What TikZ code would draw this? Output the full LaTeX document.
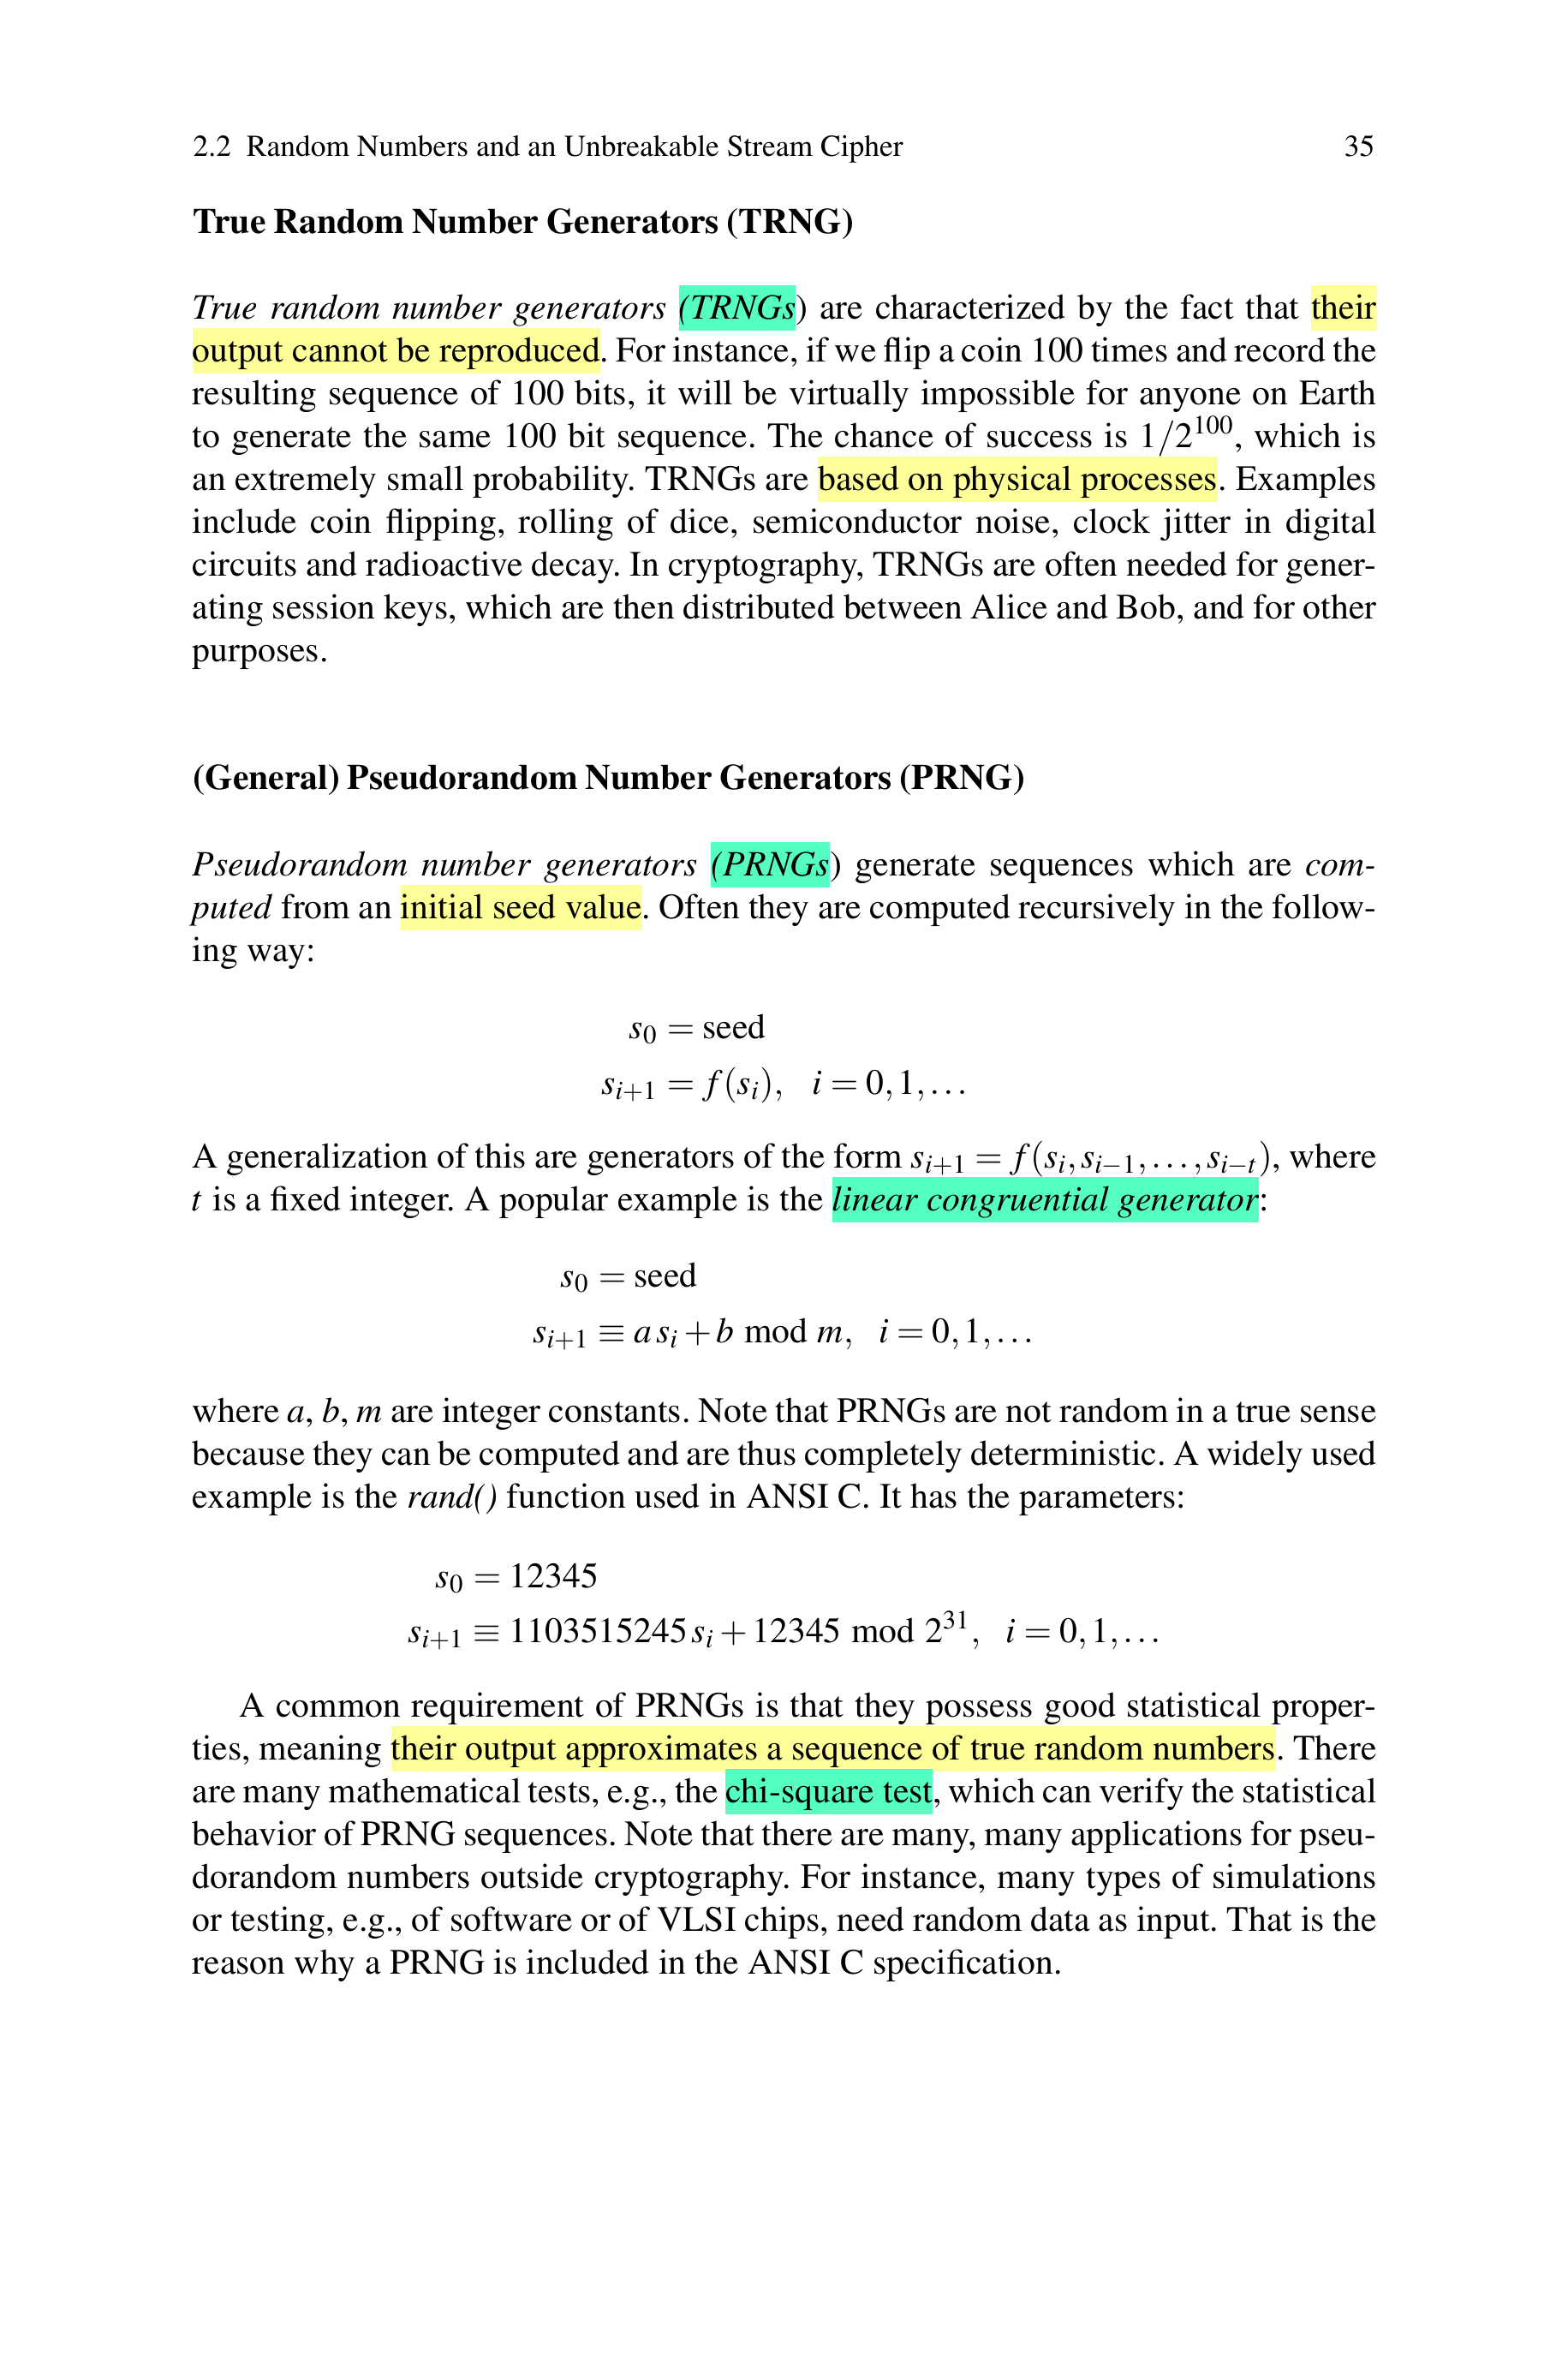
\documentclass[tikz,border=0pt]{standalone}
\usepackage[T1]{fontenc}
\usepackage{mathptmx}
\usepackage{xcolor}
\usepackage{tikz}

\definecolor{hlyellow}{RGB}{255,255,153}
\definecolor{hlgreen}{RGB}{85,255,194}
\newlength\bodyw
\setlength\bodyw{13.83cm}
\newcommand\bodyfont{\fontsize{11.87}{14.23}\selectfont\frenchspacing\lineskiplimit=-30pt\relax}
\newcommand\fline[1]{\makebox[\bodyw][s]{\spaceskip=0pt\xspaceskip=0pt\relax#1}}
\newcommand\lline[1]{{\spaceskip=0pt\xspaceskip=0pt\relax#1}}
\newcommand\headtext[1]{{\spaceskip=0.21em\relax#1}}
\newcommand\hly[1]{{\setlength\fboxsep{0pt}\colorbox{hlyellow}{\rule[-4pt]{0pt}{15pt}#1}}}
\newcommand\hlg[1]{{\setlength\fboxsep{0pt}\colorbox{hlgreen}{\rule[-4pt]{0pt}{15pt}#1}}}

\begin{document}
\begin{tikzpicture}[
    para/.style={inner sep=0pt, text width=\bodyw, align=left, font=\bodyfont, anchor=base west},
    head/.style={inner sep=0pt, font=\bodyfont\bfseries, anchor=base west},
    eql/.style={inner sep=0pt, font=\bodyfont, anchor=base east},
    eqr/.style={inner sep=0pt, font=\bodyfont, anchor=base west}
  ]
    \path[use as bounding box, fill=white] (0,0) rectangle (18.31,-27.76);

    \node[inner sep=0pt, anchor=base west, font=\fontsize{10.1}{12.1}\selectfont] (runhead) at (2.25,-1.82)
      {2.2\enspace Random Numbers and an Unbreakable Stream Cipher};
    \node[inner sep=0pt, anchor=base east, font=\fontsize{10.1}{12.1}\selectfont] (pagenum) at (16.06,-1.82) {35};

    \node[head] (trnghead) at (2.25,-2.72) {\headtext{True Random Number Generators (TRNG)}};
    \node[para] (trngtext) at (2.24,-3.72) {%
      \fline{\textit{True random number generators} \hlg{\textit{(TRNGs}}) are characterized by the fact that \hly{their}}\\
      \fline{\hly{output cannot be reproduced}. For instance, if we flip a coin 100 times and record the}\\
      \fline{resulting sequence of 100 bits, it will be virtually impossible for anyone on Earth}\\
      \fline{to generate the same 100 bit sequence. The chance of success is $1/2^{100}$, which is}\\
      \fline{an extremely small probability. TRNGs are \hly{based on physical processes}. Examples}\\
      \fline{include coin flipping, rolling of dice, semiconductor noise, clock jitter in digital}\\
      \fline{circuits and radioactive decay. In cryptography, TRNGs are often needed for gener-}\\
      \fline{ating session keys, which are then distributed between Alice and Bob, and for other}\\
      purposes.};

    \node[head] (prnghead) at (2.25,-9.21) {\headtext{(General) Pseudorandom Number Generators (PRNG)}};
    \node[para] (prngtext) at (2.24,-10.22) {%
      \fline{\textit{Pseudorandom number generators} \hlg{\textit{(PRNGs}}) generate sequences which are \textit{com-}}\\
      \fline{\textit{puted} from an \hly{initial seed value}. Often they are computed recursively in the follow-}\\
      \lline{ing way:}};

    \node[eql] (recAl) at (7.69,-12.12) {$s_0$};
    \node[eqr] (recAr) at (7.69,-12.12) {${}=\mathrm{seed}$};
    \node[eql] (recBl) at (7.69,-12.77) {$s_{i+1}$};
    \node[eqr] (recBr) at (7.69,-12.77) {${}=f(s_i),\hspace{0.7em}i=0,1,\ldots$};

    \node[para] (gentext) at (2.24,-13.63) {%
      \fline{A generalization of this are generators of the form $s_{i+1}=f(s_i,s_{i-1},\ldots,s_{i-t})$, where}\\
      \lline{$t$ is a fixed integer. A popular example is the \hlg{\textit{linear congruential generator}}:}};

    \node[eql] (lcgAl) at (6.89,-15.02) {$s_0$};
    \node[eqr] (lcgAr) at (6.89,-15.02) {${}=\mathrm{seed}$};
    \node[eql] (lcgBl) at (6.89,-15.67) {$s_{i+1}$};
    \node[eqr] (lcgBr) at (6.89,-15.67) {${}\equiv a\,s_i+b \bmod m,\hspace{0.6em}i=0,1,\ldots$};

    \node[para] (consttext) at (2.24,-16.60) {%
      \fline{where $a$, $b$, $m$ are integer constants. Note that PRNGs are not random in a true sense}\\
      \fline{because they can be computed and are thus completely deterministic. A widely used}\\
      \lline{example is the \textit{rand()} function used in ANSI C. It has the parameters:}};

    \node[eql] (randAl) at (5.43,-18.53) {$s_0$};
    \node[eqr] (randAr) at (5.43,-18.53) {${}=12345$};
    \node[eql] (randBl) at (5.43,-19.17) {$s_{i+1}$};
    \node[eqr] (randBr) at (5.43,-19.17) {${}\equiv 1103515245\,s_i+12345 \bmod 2^{31},\hspace{0.6em}i=0,1,\ldots$};

    \node[para] (stattext) at (2.24,-20.04) {%
      \fline{\hspace*{0.55cm}A common requirement of PRNGs is that they possess good statistical proper-}\\
      \fline{ties, meaning \hly{their output approximates a sequence of true random numbers}. There}\\
      \fline{are many mathematical tests, e.g., the \hlg{chi-square test}, which can verify the statistical}\\
      \fline{behavior of PRNG sequences. Note that there are many, many applications for pseu-}\\
      \fline{dorandom numbers outside cryptography. For instance, many types of simulations}\\
      \fline{or testing, e.g., of software or of VLSI chips, need random data as input. That is the}\\
      \lline{reason why a PRNG is included in the ANSI C specification.}};
\end{tikzpicture}
\end{document}
